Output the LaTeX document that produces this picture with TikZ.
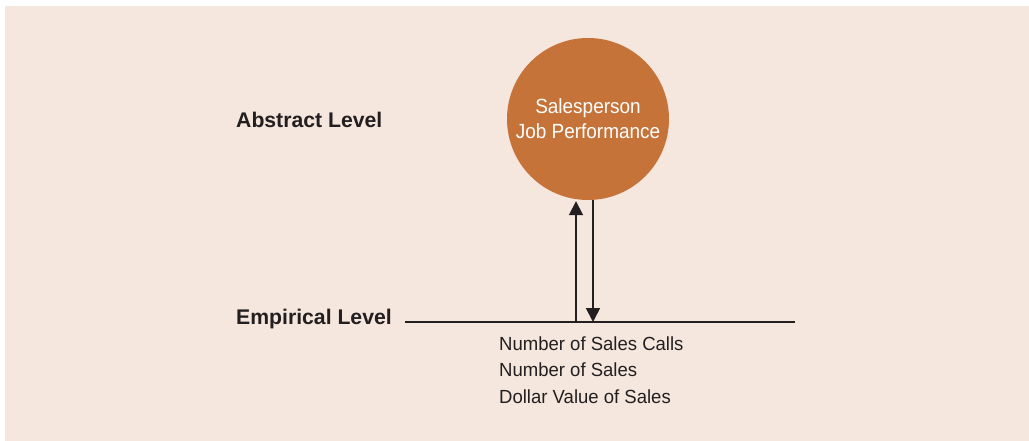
\documentclass[tikz,border=0pt]{standalone}
\usepackage{fontspec}
\setmainfont{Liberation Sans}
\newfontfamily\condfont[FakeStretch=0.925]{Liberation Sans}
\newfontfamily\listfont[FakeStretch=0.975]{Liberation Sans}
\usetikzlibrary{arrows.meta}
\definecolor{bgpeach}{HTML}{F5E7DD}
\definecolor{circorange}{HTML}{C6733A}
\definecolor{inkdark}{HTML}{231F20}
\tikzset{
  levellabel/.style={anchor=base west, inner sep=0pt, text=inkdark, font=\fontsize{21.2}{24}\selectfont\bfseries},
  listlabel/.style={anchor=base west, inner sep=0pt, text=inkdark, font=\listfont\fontsize{19}{26.5}\selectfont, align=left},
  concept/.style={circle, fill=circorange, minimum size=162pt, inner sep=0pt, text=white, font=\condfont\fontsize{20.5}{25}\selectfont, align=center},
  link/.style={draw=inkdark, line width=1.8pt, -{Triangle[length=14pt,width=14pt]}},
  baseline/.style={draw=inkdark, line width=1.3pt}
}
\begin{document}
\begin{tikzpicture}[x=1pt,y=-1pt]
\useasboundingbox (0,0) rectangle (1029,441);
\fill[white] (0,0) rectangle (1029,441);
\fill[bgpeach] (5,6) rectangle (1029,441);
\node[concept] (c) at (588,119) {Salesperson\\Job Performance};
\node[levellabel] (abs) at (236,128) {Abstract Level};
\node[levellabel] (emp) at (236,324) {Empirical Level};
\coordinate (lineL) at (405,322);
\coordinate (lineR) at (795,322);
\draw[baseline] (lineL) -- (lineR);
\coordinate (upfoot) at (576,322);
\coordinate (downfoot) at (593,322);
\draw[link] (upfoot) -- ([yshift=-1pt]upfoot |- c.south);
\draw[link] (downfoot |- c.south) -- (downfoot);
\node[listlabel] (measures) at (499,403) {Number of Sales Calls\\Number of Sales\\Dollar Value of Sales};
\end{tikzpicture}
\end{document}
